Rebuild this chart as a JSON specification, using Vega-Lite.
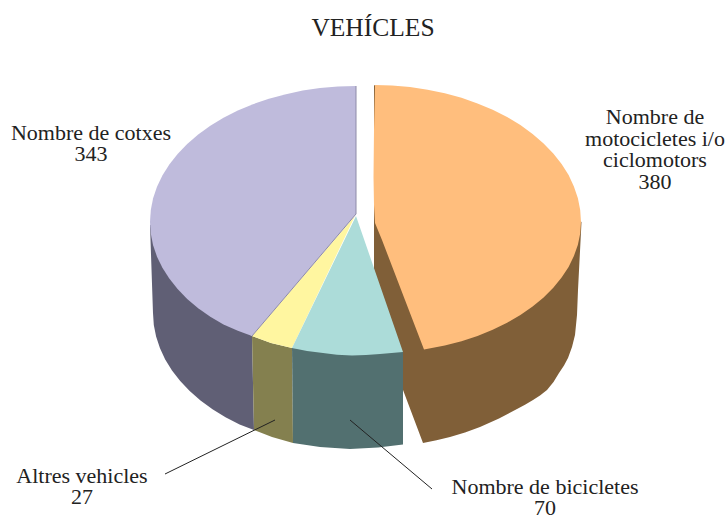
{"$schema":"https://vega.github.io/schema/vega-lite/v6.json","width":728,"height":517,"padding":0,"autosize":{"type":"none"},"background":"white","view":{"stroke":null},
"title":{"text":"VEHÍCLES","font":"Liberation Serif","fontSize":25.5,"fontWeight":"normal","color":"#222222","anchor":"middle","dx":9,"offset":-61,"baseline":"alphabetic"},
"datasets":{"outline":[
{"piece":"cotxes wall","x":150,"y":225},{"piece":"cotxes wall","x":153,"y":313},{"piece":"cotxes wall","x":153.8,"y":324.9},{"piece":"cotxes wall","x":156.1,"y":336.6},{"piece":"cotxes wall","x":160,"y":348.2},{"piece":"cotxes wall","x":165.2,"y":359.5},{"piece":"cotxes wall","x":172,"y":370.5},{"piece":"cotxes wall","x":180.2,"y":381},{"piece":"cotxes wall","x":189.7,"y":391},{"piece":"cotxes wall","x":200.5,"y":400.4},{"piece":"cotxes wall","x":212.5,"y":409.2},{"piece":"cotxes wall","x":225.5,"y":417.2},{"piece":"cotxes wall","x":239.6,"y":424.4},{"piece":"cotxes wall","x":254,"y":430},{"piece":"cotxes wall","x":252,"y":336},{"piece":"cotxes wall","x":198,"y":300},{"piece":"cotxes wall","x":160,"y":222},
{"piece":"altres wall","x":252,"y":336},{"piece":"altres wall","x":254,"y":430},{"piece":"altres wall","x":272,"y":437},{"piece":"altres wall","x":293,"y":443},{"piece":"altres wall","x":292,"y":348},{"piece":"altres wall","x":271,"y":343},
{"piece":"motos wall","x":374,"y":85},{"piece":"motos wall","x":374,"y":313},{"piece":"motos wall","x":423,"y":443},{"piece":"motos wall","x":436.5,"y":440.3},{"piece":"motos wall","x":450,"y":437},{"piece":"motos wall","x":465,"y":432.5},{"piece":"motos wall","x":480,"y":427},{"piece":"motos wall","x":499,"y":418.5},{"piece":"motos wall","x":517,"y":409},{"piece":"motos wall","x":525,"y":404.7},{"piece":"motos wall","x":533,"y":400},{"piece":"motos wall","x":540,"y":395.5},{"piece":"motos wall","x":547,"y":390},{"piece":"motos wall","x":553.5,"y":382},{"piece":"motos wall","x":559,"y":373},{"piece":"motos wall","x":564,"y":365.5},{"piece":"motos wall","x":568,"y":358},{"piece":"motos wall","x":572,"y":347},{"piece":"motos wall","x":575,"y":335},{"piece":"motos wall","x":577,"y":315},{"piece":"motos wall","x":578,"y":290},{"piece":"motos wall","x":581.5,"y":222},{"piece":"motos wall","x":480,"y":150},
{"piece":"bicis wall","x":292,"y":348},{"piece":"bicis wall","x":293,"y":443},{"piece":"bicis wall","x":320,"y":447},{"piece":"bicis wall","x":350,"y":449},{"piece":"bicis wall","x":378,"y":447.5},{"piece":"bicis wall","x":403,"y":444.5},{"piece":"bicis wall","x":403,"y":352},{"piece":"bicis wall","x":352,"y":350},
{"piece":"cotxes","x":356,"y":86},{"piece":"cotxes","x":338,"y":86.5},{"piece":"cotxes","x":320,"y":88},{"piece":"cotxes","x":302.7,"y":90.6},{"piece":"cotxes","x":286,"y":94.2},{"piece":"cotxes","x":268.9,"y":98.7},{"piece":"cotxes","x":253,"y":104.2},{"piece":"cotxes","x":237.8,"y":110.6},{"piece":"cotxes","x":223.5,"y":117.8},{"piece":"cotxes","x":210.3,"y":125.8},{"piece":"cotxes","x":198.2,"y":134.6},{"piece":"cotxes","x":187.2,"y":144},{"piece":"cotxes","x":177.6,"y":154},{"piece":"cotxes","x":169.3,"y":164.5},{"piece":"cotxes","x":162.4,"y":175.5},{"piece":"cotxes","x":157,"y":186.8},{"piece":"cotxes","x":153.1,"y":198.3},{"piece":"cotxes","x":150.8,"y":210.1},{"piece":"cotxes","x":150,"y":222},{"piece":"cotxes","x":150.8,"y":233.7},{"piece":"cotxes","x":153.1,"y":245.3},{"piece":"cotxes","x":157,"y":256.7},{"piece":"cotxes","x":162.4,"y":267.8},{"piece":"cotxes","x":169.3,"y":278.6},{"piece":"cotxes","x":177.6,"y":289},{"piece":"cotxes","x":187.2,"y":298.9},{"piece":"cotxes","x":198.2,"y":308.2},{"piece":"cotxes","x":210.3,"y":316.8},{"piece":"cotxes","x":223.5,"y":324.6},{"piece":"cotxes","x":237.8,"y":330.8},{"piece":"cotxes","x":252,"y":336},{"piece":"cotxes","x":356,"y":214},
{"piece":"altres","x":355,"y":216},{"piece":"altres","x":252,"y":336},{"piece":"altres","x":271,"y":343},{"piece":"altres","x":292,"y":348},
{"piece":"bicis","x":356,"y":216},{"piece":"bicis","x":292,"y":348},{"piece":"bicis","x":307,"y":351},{"piece":"bicis","x":323,"y":353},{"piece":"bicis","x":337,"y":354.8},{"piece":"bicis","x":352,"y":355.5},{"piece":"bicis","x":366,"y":355},{"piece":"bicis","x":380,"y":354},{"piece":"bicis","x":403,"y":352},
{"piece":"motos","x":375,"y":85},{"piece":"motos","x":392,"y":85.5},{"piece":"motos","x":410,"y":87.1},{"piece":"motos","x":427.6,"y":89.7},{"piece":"motos","x":444.8,"y":93.2},{"piece":"motos","x":461.5,"y":97.8},{"piece":"motos","x":477.5,"y":103.4},{"piece":"motos","x":492.7,"y":109.8},{"piece":"motos","x":507.1,"y":117},{"piece":"motos","x":520.4,"y":125.1},{"piece":"motos","x":532.6,"y":133.9},{"piece":"motos","x":543.6,"y":143.4},{"piece":"motos","x":553.3,"y":153.5},{"piece":"motos","x":561.6,"y":164.1},{"piece":"motos","x":568.6,"y":175.1},{"piece":"motos","x":573.9,"y":186.5},{"piece":"motos","x":577.9,"y":198.2},{"piece":"motos","x":580.2,"y":210.1},{"piece":"motos","x":581,"y":222},{"piece":"motos","x":580.2,"y":233.5},{"piece":"motos","x":577.9,"y":244.8},{"piece":"motos","x":573.9,"y":256},{"piece":"motos","x":568.6,"y":267},{"piece":"motos","x":561.6,"y":277.6},{"piece":"motos","x":553.3,"y":287.8},{"piece":"motos","x":543.6,"y":297.4},{"piece":"motos","x":532.6,"y":306.5},{"piece":"motos","x":520.4,"y":315},{"piece":"motos","x":507.1,"y":322.7},{"piece":"motos","x":492.7,"y":329.7},{"piece":"motos","x":477.5,"y":335.9},{"piece":"motos","x":461.5,"y":341.2},{"piece":"motos","x":444.8,"y":345.6},{"piece":"motos","x":424,"y":349.6},{"piece":"motos","x":405,"y":300},{"piece":"motos","x":382,"y":240},{"piece":"motos","x":375,"y":223},{"piece":"motos","x":374,"y":205},{"piece":"motos","x":373.5,"y":177},{"piece":"motos","x":374,"y":130}
],
"lines":[
{"line":"edge","x":356,"y":86},{"line":"edge","x":356,"y":214},{"line":"edge","x":252,"y":336},
{"line":"altres","x":165,"y":474},{"line":"altres","x":275,"y":420},
{"line":"bicis","x":350,"y":420},{"line":"bicis","x":432,"y":489}
],
"labels":[
{"text":"Nombre de","x":655,"y":124},{"text":"motocicletes i/o","x":655,"y":145.5},{"text":"ciclomotors","x":655,"y":167},{"text":"380","x":655,"y":188.5},
{"text":"Nombre de cotxes","x":91,"y":140},{"text":"343","x":91,"y":161},
{"text":"Altres vehicles","x":82,"y":483},{"text":"27","x":82,"y":504},
{"text":"Nombre de bicicletes","x":545,"y":494},{"text":"70","x":545,"y":515}
]},
"encoding":{
"x":{"field":"x","type":"quantitative","axis":null,"scale":{"domain":[0,728],"nice":false,"zero":false}},
"y":{"field":"y","type":"quantitative","axis":null,"scale":{"domain":[517,0],"nice":false,"zero":false}}},
"layer":[
{"data":{"name":"outline"},"mark":{"type":"line","strokeWidth":0,"interpolate":"linear-closed"},
"encoding":{"order":{"field":"none"},"fill":{"field":"piece","type":"nominal","legend":null,"scale":{"domain":["cotxes wall","altres wall","motos wall","bicis wall","cotxes","altres","bicis","motos"],"range":["#605f75","#84804f","#805f38","#527070","#bfbbdc","#fff6a0","#acdcd9","#ffbe7d"]}}}},
{"data":{"name":"lines"},"mark":{"type":"line","strokeWidth":1},
"encoding":{"order":{"field":"none"},"detail":{"field":"line"},"stroke":{"field":"line","type":"nominal","legend":null,"scale":{"domain":["edge","altres","bicis"],"range":["#8d8aa8","#222222","#222222"]}}}},
{"data":{"name":"labels"},"mark":{"type":"text","font":"Liberation Serif","fontSize":22,"align":"center","baseline":"alphabetic","color":"#222222"},
"encoding":{"text":{"field":"text"}}}
]}
